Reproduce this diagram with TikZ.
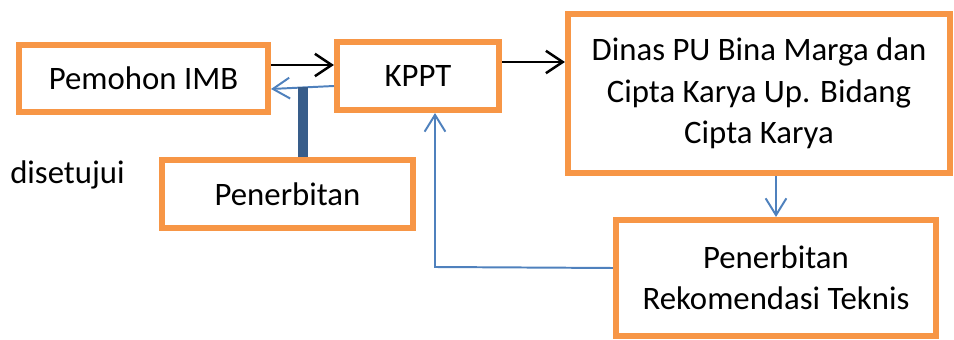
\documentclass[tikz,border=0pt]{standalone}
\usepackage{fontspec}
\setmainfont{Carlito}
\usetikzlibrary{arrows.meta,positioning,calc}
\definecolor{boxline}{RGB}{247,150,70}
\definecolor{flow}{RGB}{79,129,189}
\definecolor{bar}{RGB}{56,93,138}

\begin{document}
\begin{tikzpicture}[x=0.025cm,y=-0.025cm,
  every node/.style={font=\fontsize{23.3}{29.5}\selectfont},
  box/.style={draw=boxline,line width=4.3pt,align=center,inner sep=0pt},
  fwd/.style={black,line width=1.8pt,-{Straight Barb[length=4.2mm,width=5.6mm]}},
  back/.style={flow,line width=1.4pt,-{Straight Barb[length=4.2mm,width=5.2mm]}}]
\useasboundingbox (0,0) rectangle (954,340);
\node[box,minimum width=249*0.025cm,minimum height=67*0.025cm] (pemohon) at (143.5,78.5) {Pemohon IMB};
\node[box,minimum width=162*0.025cm,minimum height=68*0.025cm] (kppt) at (418,76) {KPPT};
\node[box,minimum width=382*0.025cm,minimum height=159*0.025cm] (dinas) at (759,93.5) {Dinas PU Bina Marga dan\\Cipta Karya Up. Bidang\\Cipta Karya};
\node[box,minimum width=251*0.025cm,minimum height=68*0.025cm] (terbit) at (287.5,194) {Penerbitan};
\node[box,minimum width=320*0.025cm,minimum height=116*0.025cm] (rekom) at (776,278) {Penerbitan\\Rekomendasi Teknis};
\node[anchor=west,inner sep=0pt] (setuju) at (10,175) {disetujui};
\coordinate (belok) at (435,267);
% alur maju
\draw[fwd] (pemohon.east |- 0,65) -- (kppt.west |- 0,65);
\draw[fwd] (kppt.east |- 0,62) -- (dinas.west |- 0,62);
% alur balik
\draw[back] (kppt.west |- 0,86) -- (pemohon.east |- 0,89);
\draw[bar,line width=7.5pt] (303,87) -- (terbit.north -| 303,0);
\draw[back] (dinas.south -| 776,0) -- (rekom.north -| 776,0);
\draw[back] (rekom.west |- 0,268) -- (belok) -- (kppt.south -| belok);
\end{tikzpicture}
\end{document}
